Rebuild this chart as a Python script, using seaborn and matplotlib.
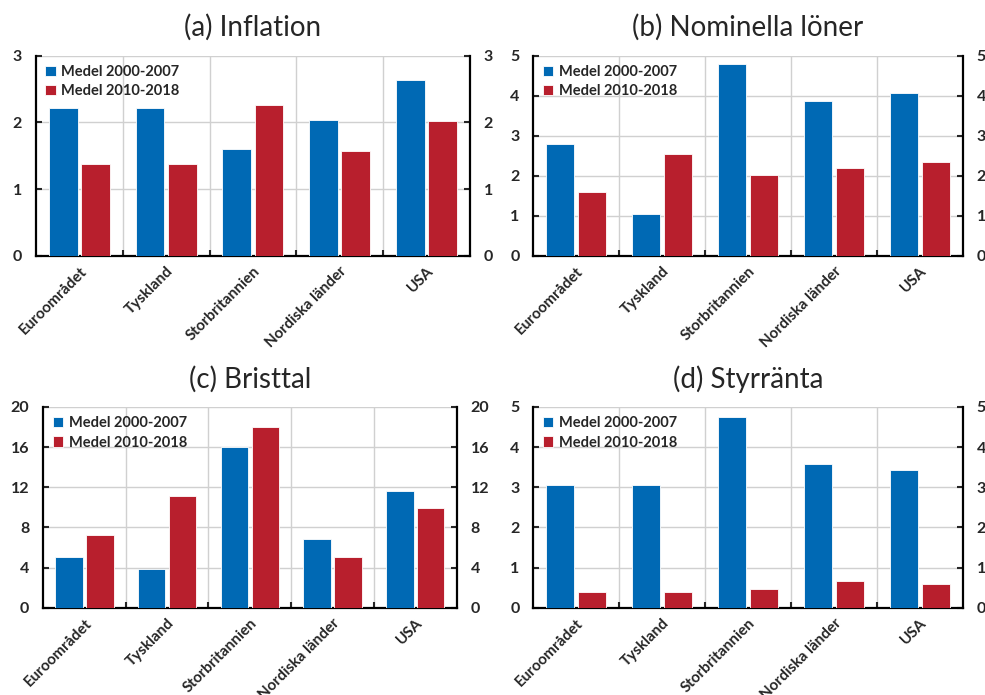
import matplotlib
matplotlib.use("Agg")
import matplotlib.pyplot as plt
import seaborn as sns
import pandas as pd

countries = ["Euroområdet", "Tyskland", "Storbritannien", "Nordiska länder", "USA"]
periods = ["Medel 2000-2007", "Medel 2010-2018"]

inflation_0007 = [2.21, 2.21, 1.60, 2.04, 2.64]
inflation_1018 = [1.38, 1.38, 2.26, 1.57, 2.02]
wages_0007 = [2.80, 1.04, 4.78, 3.86, 4.07]
wages_1018 = [1.60, 2.55, 2.02, 2.19, 2.35]
unemp_0007 = [5.1, 3.9, 16.0, 6.8, 11.6]
unemp_1018 = [7.2, 11.1, 18.0, 5.1, 9.9]
rate_0007 = [3.06, 3.06, 4.74, 3.59, 3.43]
rate_1018 = [0.40, 0.40, 0.47, 0.66, 0.60]

titles = ["(a) Inflation", "(b) Nominella löner", "(c) Bristtal", "(d) Styrränta"]
yticks = [[0, 1, 2, 3], [0, 1, 2, 3, 4, 5], [0, 4, 8, 12, 16, 20], [0, 1, 2, 3, 4, 5]]
series = [(inflation_0007, inflation_1018), (wages_0007, wages_1018),
          (unemp_0007, unemp_1018), (rate_0007, rate_1018)]

sns.set_style("white")
plt.rcParams["font.family"] = ["Lato", "DejaVu Sans"]

palette = {periods[0]: "#0069b4", periods[1]: "#b81f2d"}

fig = plt.figure(figsize=(9.85, 6.95), dpi=100)
rects = [
    [0.0365, 0.632, 0.4405, 0.288],
    [0.5414, 0.632, 0.436, 0.288],
    [0.0437, 0.1256, 0.4199, 0.2888],
    [0.5414, 0.1256, 0.436, 0.2888],
]

for rect, title, ticks, (s1, s2) in zip(rects, titles, yticks, series):
    ax = fig.add_axes(rect)
    df = pd.DataFrame({
        "land": countries * 2,
        "period": [periods[0]] * 5 + [periods[1]] * 5,
        "value": list(s1) + list(s2),
    })
    sns.barplot(data=df, x="land", y="value", hue="period", palette=palette,
                width=0.745, gap=0.11, edgecolor="white", linewidth=0.6,
                saturation=1, ax=ax, zorder=3)
    ax.set_ylim(0, ticks[-1])
    ax.set_xlim(-0.5, 4.5)
    ax.set_yticks(ticks)
    ax.set_xlabel("")
    ax.set_ylabel("")
    ax.set_title(title, fontsize=20, pad=14)

    # rutnät: vågrätt vid ticks, lodrätt mellan länderna
    ax.set_xticks([0.5, 1.5, 2.5, 3.5], minor=True)
    ax.grid(axis="y", color="#d0d0d0", lw=1, zorder=0)
    ax.grid(axis="x", which="minor", color="#d0d0d0", lw=1, zorder=0)
    ax.set_axisbelow(True)

    for side in ["left", "bottom", "right"]:
        ax.spines[side].set_visible(True)
        ax.spines[side].set_color("black")
        ax.spines[side].set_linewidth(1.6)
    ax.spines["top"].set_visible(False)

    ax.tick_params(axis="y", which="major", direction="in", length=4, width=1.5,
                   left=True, right=True, labelleft=True, labelright=True,
                   labelsize=11.5, pad=10)
    ax.tick_params(axis="x", which="major", length=0, labelsize=11, pad=6)
    ax.tick_params(axis="x", which="minor", direction="in", length=4, width=1.5,
                   bottom=True)
    for lab in ax.get_yticklabels():
        lab.set_fontweight("bold")
    ax.set_xticks(range(len(countries)))
    ax.set_xticklabels(countries, rotation=45, ha="right", va="top",
                       rotation_mode="anchor", fontweight="bold")

    ax.legend(loc="upper left", frameon=False, prop={"weight": "bold", "size": 10.5},
              handlelength=0.7, handleheight=0.7, handletextpad=0.4,
              labelspacing=0.35, borderaxespad=0.25)

fig.savefig("out.png", dpi=100)
